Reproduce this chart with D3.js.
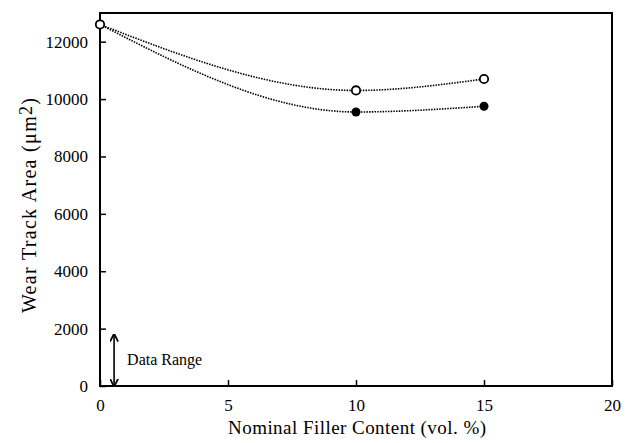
<!DOCTYPE html>
<html lang="en">

<head>
    <script src='https://d3js.org/d3.v7.min.js'></script>
    <style>
        body { margin: 0; background: #fff; }
        text { font-family: "Liberation Serif", "Times New Roman", serif; fill: #000; }
    </style>
</head>

<body>
    <div class="chart"></div>

    <script>
        // Data
        const fillerContent = [0, 10, 15];
        const openSeries = [12600, 10300, 10700];
        const filledSeries = [12600, 9550, 9750];
        const xTicks = [0, 5, 10, 15, 20];
        const yTicks = [0, 2000, 4000, 6000, 8000, 10000, 12000];

        const width = 631;
        const height = 443;
        const margin = { top: 13, right: 19, bottom: 57, left: 100 };
        const xMax = width - margin.left - margin.right;
        const yMax = height - margin.top - margin.bottom;

        const svg = d3.select(".chart")
            .append("svg")
            .attr("width", width)
            .attr("height", height)
            .append("g")
            .attr("transform", "translate(" + margin.left + "," + margin.top + ")");

        const x = d3.scaleLinear().domain([0, 20]).range([0, xMax]);
        const y = d3.scaleLinear().domain([0, 13000]).range([yMax, 0]);

        // frame
        svg.append("rect")
            .attr("width", xMax)
            .attr("height", yMax)
            .attr("fill", "none")
            .attr("stroke", "#000")
            .attr("stroke-width", 2);

        // bottom axis, ticks pointing inward
        const xAxis = svg.append("g")
            .attr("transform", "translate(0," + yMax + ")")
            .call(d3.axisBottom(x).tickValues(xTicks).tickSizeInner(-6).tickSizeOuter(0).tickPadding(13));
        xAxis.select(".domain").remove();
        xAxis.selectAll("line").attr("stroke-width", 1.5);
        xAxis.selectAll("text").style("font-size", "17px").attr("font-family", null);

        // left axis
        const yAxis = svg.append("g")
            .call(d3.axisLeft(y).tickValues(yTicks).tickFormat(d3.format("d")).tickSizeInner(-6).tickSizeOuter(0).tickPadding(12));
        yAxis.select(".domain").remove();
        yAxis.selectAll("line").attr("stroke-width", 1.5);
        yAxis.selectAll("text").style("font-size", "17px").attr("font-family", null);

        // fitted curves through the points
        const line = d3.line()
            .x((d, i) => x(fillerContent[i]))
            .y(d => y(d))
            .curve(d3.curveMonotoneX);

        [openSeries, filledSeries].forEach(s => {
            svg.append("path")
                .datum(s)
                .attr("fill", "none")
                .attr("stroke", "#000")
                .attr("stroke-width", 1.6)
                .attr("stroke-dasharray", "1.5,1.2")
                .attr("d", line);
        });

        svg.selectAll(".filled")
            .data(filledSeries)
            .join("circle")
            .attr("cx", (d, i) => x(fillerContent[i]))
            .attr("cy", d => y(d))
            .attr("r", 4.5)
            .attr("fill", "#000");

        svg.selectAll(".open")
            .data(openSeries)
            .join("circle")
            .attr("cx", (d, i) => x(fillerContent[i]))
            .attr("cy", d => y(d))
            .attr("r", 4.2)
            .attr("fill", "#fff")
            .attr("stroke", "#000")
            .attr("stroke-width", 1.8);

        // data range marker
        const defs = svg.append("defs");
        defs.append("marker")
            .attr("id", "head")
            .attr("viewBox", "0 0 10 10")
            .attr("refX", 9).attr("refY", 5)
            .attr("markerWidth", 8).attr("markerHeight", 9)
            .attr("markerUnits", "userSpaceOnUse")
            .attr("orient", "auto-start-reverse")
            .append("path")
            .attr("d", "M0,0 L10,5 L0,10")
            .attr("fill", "none")
            .attr("stroke", "#000")
            .attr("stroke-width", 2.2);

        svg.append("line")
            .attr("x1", x(0.55)).attr("x2", x(0.55))
            .attr("y1", y(1800)).attr("y2", y(0))
            .attr("stroke", "#000")
            .attr("stroke-width", 1.6)
            .attr("marker-start", "url(#head)")
            .attr("marker-end", "url(#head)");

        svg.append("text")
            .attr("x", x(0.55) + 13)
            .attr("y", y(900) + 5)
            .style("font-size", "16px")
            .text("Data Range");

        // axis titles
        svg.append("text")
            .attr("x", 128)
            .attr("y", yMax + 48)
            .attr("textLength", 258)
            .style("font-size", "19px")
            .text("Nominal Filler Content (vol. %)");

        const yTitle = svg.append("text")
            .attr("transform", "translate(-64," + (yMax - 73) + ") rotate(-90)")
            .attr("textLength", 215)
            .style("font-size", "20px");
        yTitle.append("tspan").text("Wear Track Area (\u03bcm");
        yTitle.append("tspan").attr("dy", -4).style("font-size", "18px").text("2");
        yTitle.append("tspan").attr("dy", 4).text(")");
    </script>
</body>

</html>
